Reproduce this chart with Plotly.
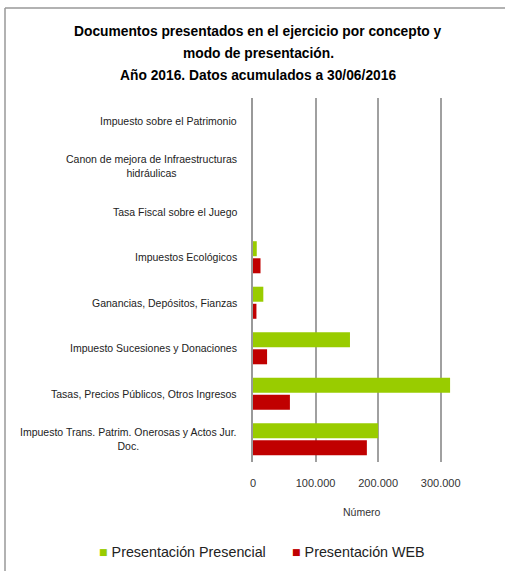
import plotly.graph_objects as go

categories = [
    "Impuesto sobre el Patrimonio",
    "Canon de mejora de Infraestructuras<br>hidráulicas",
    "Tasa Fiscal sobre el Juego",
    "Impuestos Ecológicos",
    "Ganancias, Depósitos, Fianzas",
    "Impuesto Sucesiones y Donaciones",
    "Tasas, Precios Públicos, Otros Ingresos",
    "Impuesto Trans. Patrim. Onerosas y Actos Jur.<br>Doc.",
]
presencial = [0, 0, 0, 6000, 16500, 155000, 315000, 200000]
web = [0, 0, 0, 12000, 5500, 22500, 59000, 182000]
tick_vals = [0, 100000, 200000, 300000]
tick_text = ["0", "100.000", "200.000", "300.000"]
series_names = ["Presentación Presencial", "Presentación WEB"]
series_colors = ["#99CC00", "#C00000"]
title_lines = [
    "Documentos presentados en el ejercicio por concepto y",
    "modo de presentación.",
    "Año 2016. Datos acumulados a 30/06/2016",
]

W, H = 505, 571
L, R, T, B = 253, 8, 98, 109
pw, ph = W - L - R, H - T - B

def px_x(p):
    return (p - L) / pw

def px_y(p):
    return (H - B - p) / ph

SANS = "Liberation Sans, Arial, sans-serif"

fig = go.Figure()
for name, vals, col in zip(series_names, [presencial, web], series_colors):
    fig.add_trace(go.Bar(
        y=categories, x=vals, orientation="h", name=name,
        marker=dict(color=col, line=dict(width=0)),
    ))

annotations = []
for c in categories:
    annotations.append(dict(
        x=px_x(239), xref="paper", y=c, yref="y", text=c, showarrow=False,
        xanchor="right", yanchor="middle", align="center",
        font=dict(family=SANS, size=10.5, color="#222222"),
    ))
annotations.append(dict(
    x=px_x(362), xref="paper", y=px_y(512), yref="paper", text="Número",
    showarrow=False, xanchor="center", yanchor="middle",
    font=dict(family=SANS, size=10.5, color="#333333"),
))
for line, ly in zip(title_lines, [31, 53, 75]):
    annotations.append(dict(
        x=px_x(258), xref="paper", y=px_y(ly), yref="paper",
        text=f"<b>{line}</b>",
        showarrow=False, xanchor="center", yanchor="middle", align="center",
        font=dict(family=SANS, size=13.8, color="#000000"),
    ))
# legend drawn as text entries
legend_x = [97, 290]
for name, col, lx in zip(series_names, series_colors, legend_x):
    annotations.append(dict(
        x=px_x(lx), xref="paper", y=px_y(552), yref="paper",
        text=f"<span style='color:{col}'>■</span> {name}",
        showarrow=False, xanchor="left", yanchor="middle",
        font=dict(family=SANS, size=14.3, color="#222222"),
    ))

frame = dict(color="#999999", width=1.5)
fig.update_layout(
    width=W, height=H,
    margin=dict(l=L, r=R, t=T, b=B, autoexpand=False),
    paper_bgcolor="white", plot_bgcolor="white",
    barmode="group", bargap=0.25, bargroupgap=0.12,
    separators=",.",
    showlegend=False,
    annotations=annotations,
    shapes=[
        dict(type="line", xref="paper", yref="paper",
             x0=px_x(5), x1=px_x(5), y0=px_y(575), y1=px_y(8), line=frame),
        dict(type="line", xref="paper", yref="paper",
             x0=px_x(5), x1=px_x(510), y0=px_y(8), y1=px_y(8), line=frame),
    ],
)
fig.update_xaxes(
    range=[0, 390000], tickvals=tick_vals, ticktext=tick_text,
    showgrid=True, gridcolor="#A0A0A0", gridwidth=1.5,
    zeroline=False, showline=False,
    ticklabelstandoff=13,
    tickfont=dict(family=SANS, size=11, color="#333333"),
)
fig.update_yaxes(
    autorange="reversed", showticklabels=False, showgrid=False,
    showline=True, linecolor="#999999", linewidth=1.5, zeroline=False,
)
fig.write_html(
    "out.html",
    config={"displayModeBar": False},
    post_script="document.body.style.margin='0';document.body.style.overflow='hidden';",
)
